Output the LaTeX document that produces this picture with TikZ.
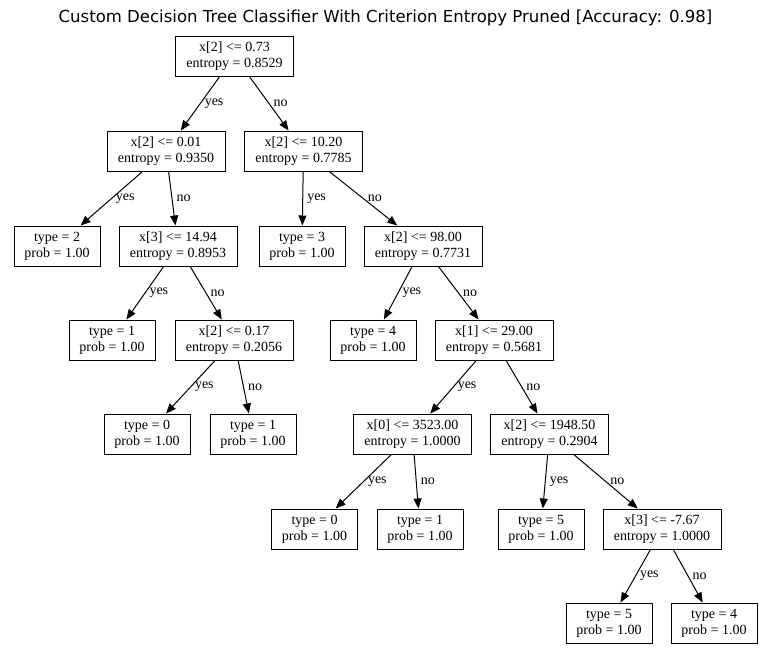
\documentclass[tikz,border=0pt]{standalone}
\usepackage{fontspec}
\setmainfont{Liberation Serif}
\newfontfamily\titlefont{DejaVu Sans}
\usetikzlibrary{arrows.meta}

\begin{document}
\begin{tikzpicture}[
  x=0.75pt, y=-0.75pt,
  box/.style={draw, line width=0.75pt, inner sep=0pt, minimum height=30pt, align=center,
    font=\fontsize{10.5}{12}\selectfont},
  split/.style={box, minimum width=88.5pt},
  leaf/.style={box, minimum width=64.5pt},
  arr/.style={-{Triangle[length=7.5pt,width=6pt]}, line width=0.75pt},
  lbl/.style={midway, right, inner sep=3pt, font=\fontsize{10.5}{12}\selectfont}
]
\useasboundingbox (0,0) rectangle (771,658);
\node[font=\titlefont\fontsize{12.4}{14}\selectfont] (title) at (385.5,18)
  {Custom Decision Tree Classifier With Criterion Entropy Pruned [Accuracy: 0.98]};

% split nodes
\node[split] (s1) at (234.5,56) {x[2] <= 0.73\\entropy = 0.8529};
\node[split] (s2) at (166,151) {x[2] <= 0.01\\entropy = 0.9350};
\node[split] (s3) at (303.5,151) {x[2] <= 10.20\\entropy = 0.7785};
\node[split] (s4) at (178,246) {x[3] <= 14.94\\entropy = 0.8953};
\node[split] (s5) at (423,246) {x[2] <= 98.00\\entropy = 0.7731};
\node[split] (s6) at (234,340) {x[2] <= 0.17\\entropy = 0.2056};
\node[split] (s7) at (494,340) {x[1] <= 29.00\\entropy = 0.5681};
\node[split] (s8) at (412.5,434) {x[0] <= 3523.00\\entropy = 1.0000};
\node[split] (s9) at (549.5,434) {x[2] <= 1948.50\\entropy = 0.2904};
\node[split] (s10) at (662,529) {x[3] <= -7.67\\entropy = 1.0000};

% leaves
\node[leaf] (t1) at (57,246) {type = 2\\prob = 1.00};
\node[leaf] (t2) at (302,246) {type = 3\\prob = 1.00};
\node[leaf] (t3) at (112,340) {type = 1\\prob = 1.00};
\node[leaf] (t4) at (373,340) {type = 4\\prob = 1.00};
\node[leaf] (t5) at (147,434) {type = 0\\prob = 1.00};
\node[leaf] (t6) at (253,434) {type = 1\\prob = 1.00};
\node[leaf] (t7) at (314.5,529) {type = 0\\prob = 1.00};
\node[leaf] (t8) at (420,529) {type = 1\\prob = 1.00};
\node[leaf] (t9) at (541,529) {type = 5\\prob = 1.00};
\node[leaf] (t10) at (609,623) {type = 5\\prob = 1.00};
\node[leaf] (t11) at (714,623) {type = 4\\prob = 1.00};

\draw[arr] (s1) -- node[lbl] {yes} (s2);
\draw[arr] (s1) -- node[lbl] {no} (s3);
\draw[arr] (s2) -- node[lbl] {yes} (t1);
\draw[arr] (s2) -- node[lbl] {no} (s4);
\draw[arr] (s3) -- node[lbl] {yes} (t2);
\draw[arr] (s3) -- node[lbl] {no} (s5);
\draw[arr] (s4) -- node[lbl] {yes} (t3);
\draw[arr] (s4) -- node[lbl] {no} (s6);
\draw[arr] (s5) -- node[lbl] {yes} (t4);
\draw[arr] (s5) -- node[lbl] {no} (s7);
\draw[arr] (s6) -- node[lbl] {yes} (t5);
\draw[arr] (s6) -- node[lbl] {no} (t6);
\draw[arr] (s7) -- node[lbl] {yes} (s8);
\draw[arr] (s7) -- node[lbl] {no} (s9);
\draw[arr] (s8) -- node[lbl] {yes} (t7);
\draw[arr] (s8) -- node[lbl] {no} (t8);
\draw[arr] (s9) -- node[lbl] {yes} (t9);
\draw[arr] (s9) -- node[lbl] {no} (s10);
\draw[arr] (s10) -- node[lbl] {yes} (t10);
\draw[arr] (s10) -- node[lbl] {no} (t11);
\end{tikzpicture}
\end{document}
